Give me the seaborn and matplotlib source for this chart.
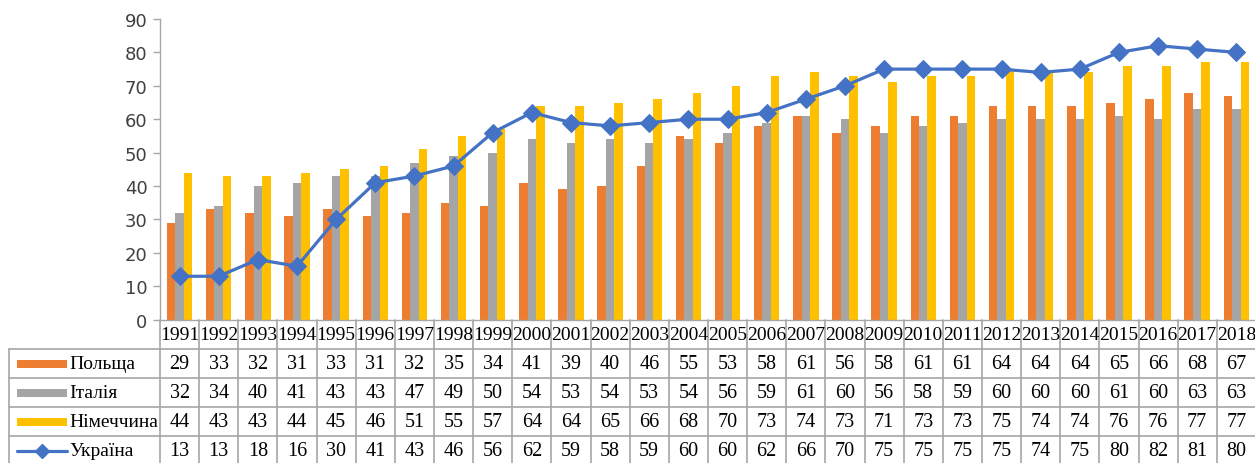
import numpy as np
import pandas as pd
import matplotlib
matplotlib.use("Agg")
import matplotlib.pyplot as plt
import seaborn as sns

# --- Data ---
years = [str(y) for y in range(1991, 2019)]
poland = [29, 33, 32, 31, 33, 31, 32, 35, 34, 41, 39, 40, 46, 55, 53, 58, 61, 56, 58, 61, 61, 64, 64, 64, 65, 66, 68, 67]
italy = [32, 34, 40, 41, 43, 43, 47, 49, 50, 54, 53, 54, 53, 54, 56, 59, 61, 60, 56, 58, 59, 60, 60, 60, 61, 60, 63, 63]
germany = [44, 43, 43, 44, 45, 46, 51, 55, 57, 64, 64, 65, 66, 68, 70, 73, 74, 73, 71, 73, 73, 75, 74, 74, 76, 76, 77, 77]
ukraine = [13, 13, 18, 16, 30, 41, 43, 46, 56, 62, 59, 58, 59, 60, 60, 62, 66, 70, 75, 75, 75, 75, 74, 75, 80, 82, 81, 80]

bar_names = ["Польща", "Італія", "Німеччина"]
line_name = "Україна"
bar_colors = ["#ED7D31", "#A5A5A5", "#FFC000"]
line_color = "#4472C4"
grid_color = "#A6A6A6"

df = pd.DataFrame({"Рік": years * 3,
                   "Країна": np.repeat(bar_names, len(years)),
                   "Значення": poland + italy + germany})

# --- Layout (pixel based) ---
W, H = 1255, 464
col_w = 39.14
y_top, y_zero, row_h = 20, 320.7, 29.0

sns.set_theme(style="white")
plt.rcParams["font.family"] = ["DejaVu Sans"]
fig = plt.figure(figsize=(W / 100, H / 100), dpi=100)

ax = fig.add_axes([160 / W, 1 - y_zero / H, 28 * col_w / W, (y_zero - y_top) / H])
sns.barplot(data=df, x="Рік", y="Значення", hue="Країна", order=years, hue_order=bar_names,
            palette=bar_colors, width=0.65, gap=0, saturation=1, legend=False, ax=ax, linewidth=0)
sns.lineplot(x=np.arange(len(years)), y=ukraine, color=line_color, lw=2.3, marker="D",
             markersize=9, markeredgecolor=line_color, ax=ax, zorder=5)

ax.set_xlim(-0.5, len(years) - 0.5)
ax.set_ylim(0, 90)
ax.set_yticks(range(0, 91, 10))
ax.set_xticks([])
ax.set_xlabel("")
ax.set_ylabel("")
for s in ["top", "right"]:
    ax.spines[s].set_visible(False)
for s in ["left", "bottom"]:
    ax.spines[s].set_color(grid_color)
    ax.spines[s].set_linewidth(1.0)
ax.tick_params(axis="y", length=5, width=1, color=grid_color, labelsize=13,
               labelcolor="#404040", pad=4, left=True)

# --- Data table below the plot ---
tax = fig.add_axes([0, 0, 1, 1 - y_zero / H])
u = lambda px: -0.5 + (px - 160) / col_w
tax.set_xlim(u(0), u(W))
tax.set_ylim((H - y_zero) / row_h, 0)
tax.axis("off")

x_left = u(9)
x_right = len(years) - 0.5
n_rows = 4
y_end = (H - y_zero) / row_h + 0.2
lkw = dict(color=grid_color, lw=1.2, clip_on=False)
for r in range(1, n_rows + 1):
    tax.plot([x_left, x_right], [r, r], **lkw)
for k in range(len(years) + 1):
    tax.plot([k - 0.5, k - 0.5], [0, y_end], **lkw)
tax.plot([x_left, x_left], [1, y_end], **lkw)

tkw = dict(family="Liberation Serif", color="black", va="center")
for i, yr in enumerate(years):
    tax.text(i, 0.52, yr, ha="center", fontsize=14, **tkw)

rows = [poland, italy, germany, ukraine]
for r, vals in enumerate(rows, start=1):
    for i, v in enumerate(vals):
        tax.text(i, r + 0.52, str(v), ha="center", fontsize=14.5, **tkw)

# legend keys in the row labels
key_x0, key_x1 = u(17), u(67)
for r, (name, c) in enumerate(zip(bar_names, bar_colors), start=1):
    tax.add_patch(plt.Rectangle((key_x0, r + 0.4), key_x1 - key_x0, 0.25, color=c, lw=0))
    tax.text(u(69), r + 0.52, name, ha="left", fontsize=14, **tkw)
tax.plot([key_x0, key_x1], [4.52, 4.52], color=line_color, lw=2.3)
tax.plot([(key_x0 + key_x1) / 2], [4.52], marker="D", markersize=7, color=line_color)
tax.text(u(69), 4.52, line_name, ha="left", fontsize=14, **tkw)

fig.savefig("out.png", dpi=100)
